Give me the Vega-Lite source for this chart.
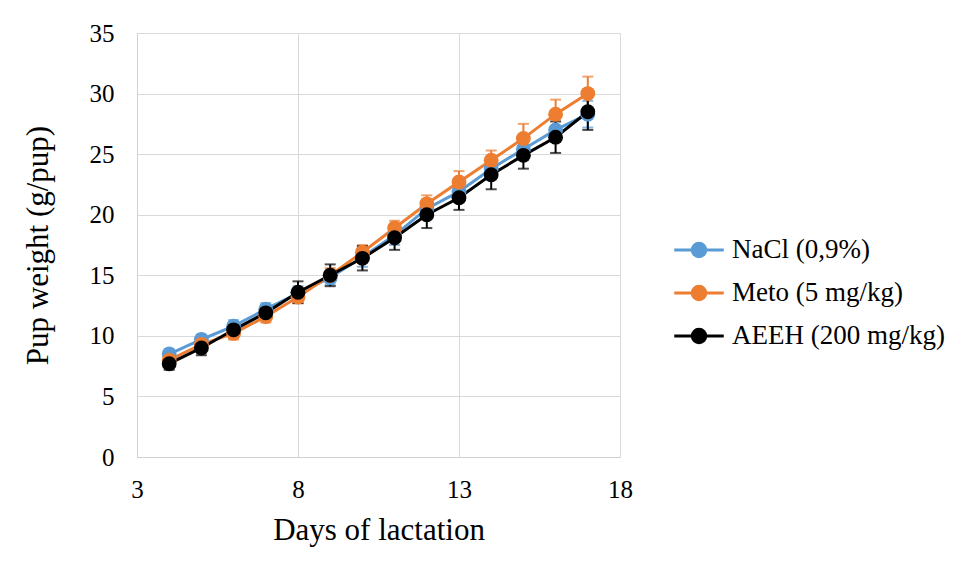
{
  "$schema": "https://vega.github.io/schema/vega-lite/v6.json",
  "autosize": "none",
  "width": 483,
  "height": 424,
  "padding": {"left": 137, "top": 33, "right": 336, "bottom": 119},
  "background": "white",
  "config": {
    "font": "Liberation Serif",
    "view": {"stroke": null},
    "axis": {
      "labelFont": "Liberation Serif",
      "titleFont": "Liberation Serif",
      "labelFontSize": 25,
      "titleFontSize": 31,
      "labelColor": "#000000",
      "titleColor": "#000000",
      "titleFontWeight": "normal",
      "gridColor": "#d9d9d9",
      "gridWidth": 1,
      "domainColor": "#d0d0d0",
      "ticks": false
    },
    "legend": {
      "labelFont": "Liberation Serif",
      "labelFontSize": 27,
      "labelColor": "#000000",
      "labelLimit": 0,
      "symbolOpacity": 1
    }
  },
  "data": {
    "values": [
      {"day": 4, "group": "NaCl (0,9%)", "weight": 8.5, "err": 0.4},
      {"day": 5, "group": "NaCl (0,9%)", "weight": 9.7, "err": 0.4},
      {"day": 6, "group": "NaCl (0,9%)", "weight": 10.8, "err": 0.5},
      {"day": 7, "group": "NaCl (0,9%)", "weight": 12.2, "err": 0.5},
      {"day": 8, "group": "NaCl (0,9%)", "weight": 13.5, "err": 0.6},
      {"day": 9, "group": "NaCl (0,9%)", "weight": 14.8, "err": 0.6},
      {"day": 10, "group": "NaCl (0,9%)", "weight": 16.5, "err": 0.8},
      {"day": 11, "group": "NaCl (0,9%)", "weight": 18.3, "err": 0.8},
      {"day": 12, "group": "NaCl (0,9%)", "weight": 20.5, "err": 0.8},
      {"day": 13, "group": "NaCl (0,9%)", "weight": 21.9, "err": 0.9},
      {"day": 14, "group": "NaCl (0,9%)", "weight": 23.8, "err": 0.9},
      {"day": 15, "group": "NaCl (0,9%)", "weight": 25.4, "err": 0.9},
      {"day": 16, "group": "NaCl (0,9%)", "weight": 27.0, "err": 1.0},
      {"day": 17, "group": "NaCl (0,9%)", "weight": 28.3, "err": 1.1},
      {"day": 4, "group": "Meto (5 mg/kg)", "weight": 8.0, "err": 0.4},
      {"day": 5, "group": "Meto (5 mg/kg)", "weight": 9.3, "err": 0.4},
      {"day": 6, "group": "Meto (5 mg/kg)", "weight": 10.2, "err": 0.5},
      {"day": 7, "group": "Meto (5 mg/kg)", "weight": 11.6, "err": 0.5},
      {"day": 8, "group": "Meto (5 mg/kg)", "weight": 13.2, "err": 0.5},
      {"day": 9, "group": "Meto (5 mg/kg)", "weight": 15.0, "err": 0.6},
      {"day": 10, "group": "Meto (5 mg/kg)", "weight": 16.9, "err": 0.6},
      {"day": 11, "group": "Meto (5 mg/kg)", "weight": 18.9, "err": 0.6},
      {"day": 12, "group": "Meto (5 mg/kg)", "weight": 20.9, "err": 0.7},
      {"day": 13, "group": "Meto (5 mg/kg)", "weight": 22.7, "err": 0.9},
      {"day": 14, "group": "Meto (5 mg/kg)", "weight": 24.5, "err": 0.8},
      {"day": 15, "group": "Meto (5 mg/kg)", "weight": 26.3, "err": 1.2},
      {"day": 16, "group": "Meto (5 mg/kg)", "weight": 28.3, "err": 1.2},
      {"day": 17, "group": "Meto (5 mg/kg)", "weight": 30.0, "err": 1.4},
      {"day": 4, "group": "AEEH (200 mg/kg)", "weight": 7.7, "err": 0.5},
      {"day": 5, "group": "AEEH (200 mg/kg)", "weight": 9.0, "err": 0.6},
      {"day": 6, "group": "AEEH (200 mg/kg)", "weight": 10.5, "err": 0.6},
      {"day": 7, "group": "AEEH (200 mg/kg)", "weight": 11.9, "err": 0.6},
      {"day": 8, "group": "AEEH (200 mg/kg)", "weight": 13.6, "err": 0.9},
      {"day": 9, "group": "AEEH (200 mg/kg)", "weight": 15.0, "err": 0.9},
      {"day": 10, "group": "AEEH (200 mg/kg)", "weight": 16.4, "err": 1.0},
      {"day": 11, "group": "AEEH (200 mg/kg)", "weight": 18.1, "err": 1.0},
      {"day": 12, "group": "AEEH (200 mg/kg)", "weight": 20.0, "err": 1.1},
      {"day": 13, "group": "AEEH (200 mg/kg)", "weight": 21.4, "err": 1.0},
      {"day": 14, "group": "AEEH (200 mg/kg)", "weight": 23.3, "err": 1.2},
      {"day": 15, "group": "AEEH (200 mg/kg)", "weight": 24.9, "err": 1.1},
      {"day": 16, "group": "AEEH (200 mg/kg)", "weight": 26.4, "err": 1.3},
      {"day": 17, "group": "AEEH (200 mg/kg)", "weight": 28.5, "err": 1.5}
    ]
  },
  "encoding": {
    "x": {
      "field": "day",
      "type": "quantitative",
      "scale": {"domain": [3, 18], "nice": false, "zero": false},
      "axis": {"values": [3, 8, 13, 18], "title": "Days of lactation", "labelPadding": 20, "titlePadding": 13, "labelFlush": false}
    },
    "color": {
      "field": "group",
      "type": "nominal",
      "scale": {
        "domain": ["NaCl (0,9%)", "Meto (5 mg/kg)", "AEEH (200 mg/kg)"],
        "range": ["#5B9BD5", "#ED7D31", "#000000"]
      },
      "legend": {
        "title": null,
        "orient": "none",
        "legendX": 538,
        "legendY": 193,
        "padding": 0,
        "symbolType": "M-1.1,0L1.1,0M-0.3,0A0.3,0.3 0 1,1 0.3,0A0.3,0.3 0 1,1 -0.3,0Z",
        "symbolSize": 2025,
        "symbolStrokeWidth": 3,
        "labelOffset": 9,
        "rowPadding": 6
      }
    }
  },
  "layer": [
    {
      "mark": {"type": "errorbar", "ticks": {"size": 11}, "thickness": 2},
      "encoding": {
        "y": {
          "field": "weight",
          "type": "quantitative",
          "scale": {"domain": [0, 35], "nice": false},
          "axis": {"values": [0, 5, 10, 15, 20, 25, 30, 35], "title": "Pup weight (g/pup)", "labelPadding": 23, "titlePadding": 35}
        },
        "yError": {"field": "err"}
      }
    },
    {
      "mark": {"type": "line", "strokeWidth": 3},
      "encoding": {"y": {"field": "weight", "type": "quantitative"}}
    },
    {
      "mark": {"type": "point", "filled": true, "shape": "circle", "size": 220, "opacity": 1},
      "encoding": {"y": {"field": "weight", "type": "quantitative"}}
    }
  ]
}
